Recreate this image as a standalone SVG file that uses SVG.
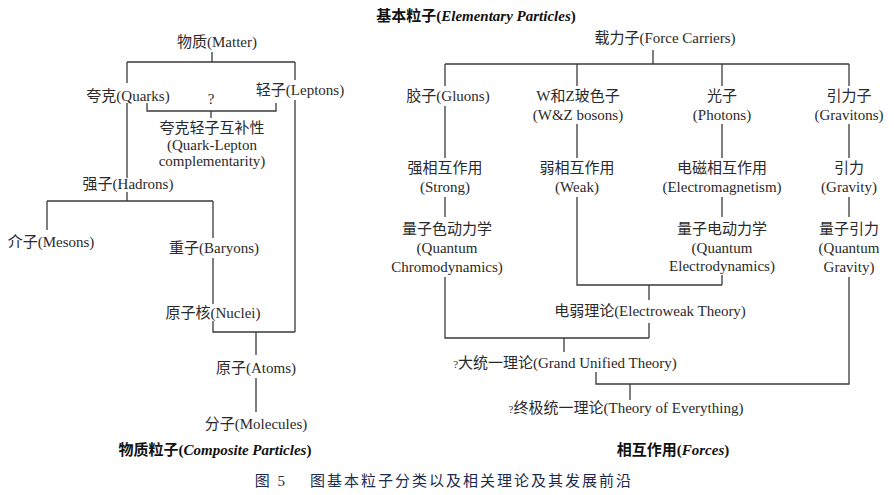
<svg xmlns="http://www.w3.org/2000/svg" width="894" height="495" viewBox="0 0 894 495">
<style>
text{font-family:"Liberation Serif","Noto Sans CJK SC",serif;font-size:15px;fill:#2a2a2a;text-anchor:middle}
.b{font-weight:bold;fill:#111}
.cap{fill:#1c2a4e;font-size:15px;letter-spacing:2px}
#connectors path{fill:none;stroke:#3a3a3a;stroke-width:1.3}
</style>
<rect width="894" height="495" fill="#fff"/>
<g id="connectors">
<path d="M212 52V62M127 62H295M127 62V83M295 62V80M295 100V332M127 103V178"/>
<path d="M147 103V111H276V103M211 111V118"/>
<path d="M127 192V201M47 201H213M47 201V230M213 201V238M213 258V304M213 321V332H295M256 332V355M256 378V412"/>
<path d="M653 50V64M445 64H849M445 64V86M577 64V86M722 64V86M849 64V86"/>
<path d="M445 106V158M445 197V217M445 277V338H649M577 124V158M577 197V285H722M722 124V158M722 197V217M722 275V285M649 285V300M649 323V338M564 338V352"/>
<path d="M849 124V158M849 197V217M849 277V384H596V372M630 384V400"/>
</g>
<g id="title-elementary"><text class="b" x="476" y="21">基本粒子(<tspan font-style="italic">Elementary Particles</tspan>)</text></g>
<g id="matter"><text x="217" y="47">物质(Matter)</text></g>
<g id="quarks"><text x="128" y="101">夸克(Quarks)</text></g>
<g id="leptons"><text x="300" y="95">轻子(Leptons)</text></g>
<g id="qmark"><text x="211" y="104" font-size="12">?</text></g>
<g id="qlc"><text x="212" y="133">夸克轻子互补性</text><text x="212" y="150">(Quark-Lepton</text><text x="212" y="166">complementarity)</text></g>
<g id="hadrons"><text x="128" y="189">强子(Hadrons)</text></g>
<g id="mesons"><text x="51" y="247">介子(Mesons)</text></g>
<g id="baryons"><text x="214" y="253">重子(Baryons)</text></g>
<g id="nuclei"><text x="213" y="318">原子核(Nuclei)</text></g>
<g id="atoms"><text x="256" y="373">原子(Atoms)</text></g>
<g id="molecules"><text x="256" y="429">分子(Molecules)</text></g>
<g id="title-composite"><text class="b" x="215" y="455">物质粒子(<tspan font-style="italic">Composite Particles</tspan>)</text></g>
<g id="force-carriers"><text x="665" y="43">载力子(Force Carriers)</text></g>
<g id="gluons"><text x="448" y="101">胶子(Gluons)</text></g>
<g id="wz"><text x="578" y="101">W和Z玻色子</text><text x="578" y="120">(W&amp;Z bosons)</text></g>
<g id="photons"><text x="722" y="101">光子</text><text x="722" y="120">(Photons)</text></g>
<g id="gravitons"><text x="849" y="101">引力子</text><text x="849" y="120">(Gravitons)</text></g>
<g id="strong"><text x="445" y="173">强相互作用</text><text x="445" y="192">(Strong)</text></g>
<g id="weak"><text x="577" y="173">弱相互作用</text><text x="577" y="192">(Weak)</text></g>
<g id="em"><text x="722" y="173">电磁相互作用</text><text x="722" y="192">(Electromagnetism)</text></g>
<g id="gravity"><text x="849" y="173">引力</text><text x="849" y="192">(Gravity)</text></g>
<g id="qcd"><text x="447" y="234">量子色动力学</text><text x="447" y="253">(Quantum</text><text x="447" y="272">Chromodynamics)</text></g>
<g id="qed"><text x="722" y="234">量子电动力学</text><text x="722" y="253">(Quantum</text><text x="722" y="271">Electrodynamics)</text></g>
<g id="qg"><text x="849" y="234">量子引力</text><text x="849" y="253">(Quantum</text><text x="849" y="272">Gravity)</text></g>
<g id="electroweak"><text x="650" y="316">电弱理论(Electroweak Theory)</text></g>
<g id="gut"><text x="565" y="368"><tspan font-size="11">?</tspan>大统一理论(Grand Unified Theory)</text></g>
<g id="toe"><text x="626" y="413"><tspan font-size="11">?</tspan>终极统一理论(Theory of Everything)</text></g>
<g id="title-forces"><text class="b" x="673" y="455">相互作用(<tspan font-style="italic">Forces</tspan>)</text></g>
<g id="caption"><text class="cap" x="444" y="486" xml:space="preserve">图 5    图基本粒子分类以及相关理论及其发展前沿</text></g>
</svg>
